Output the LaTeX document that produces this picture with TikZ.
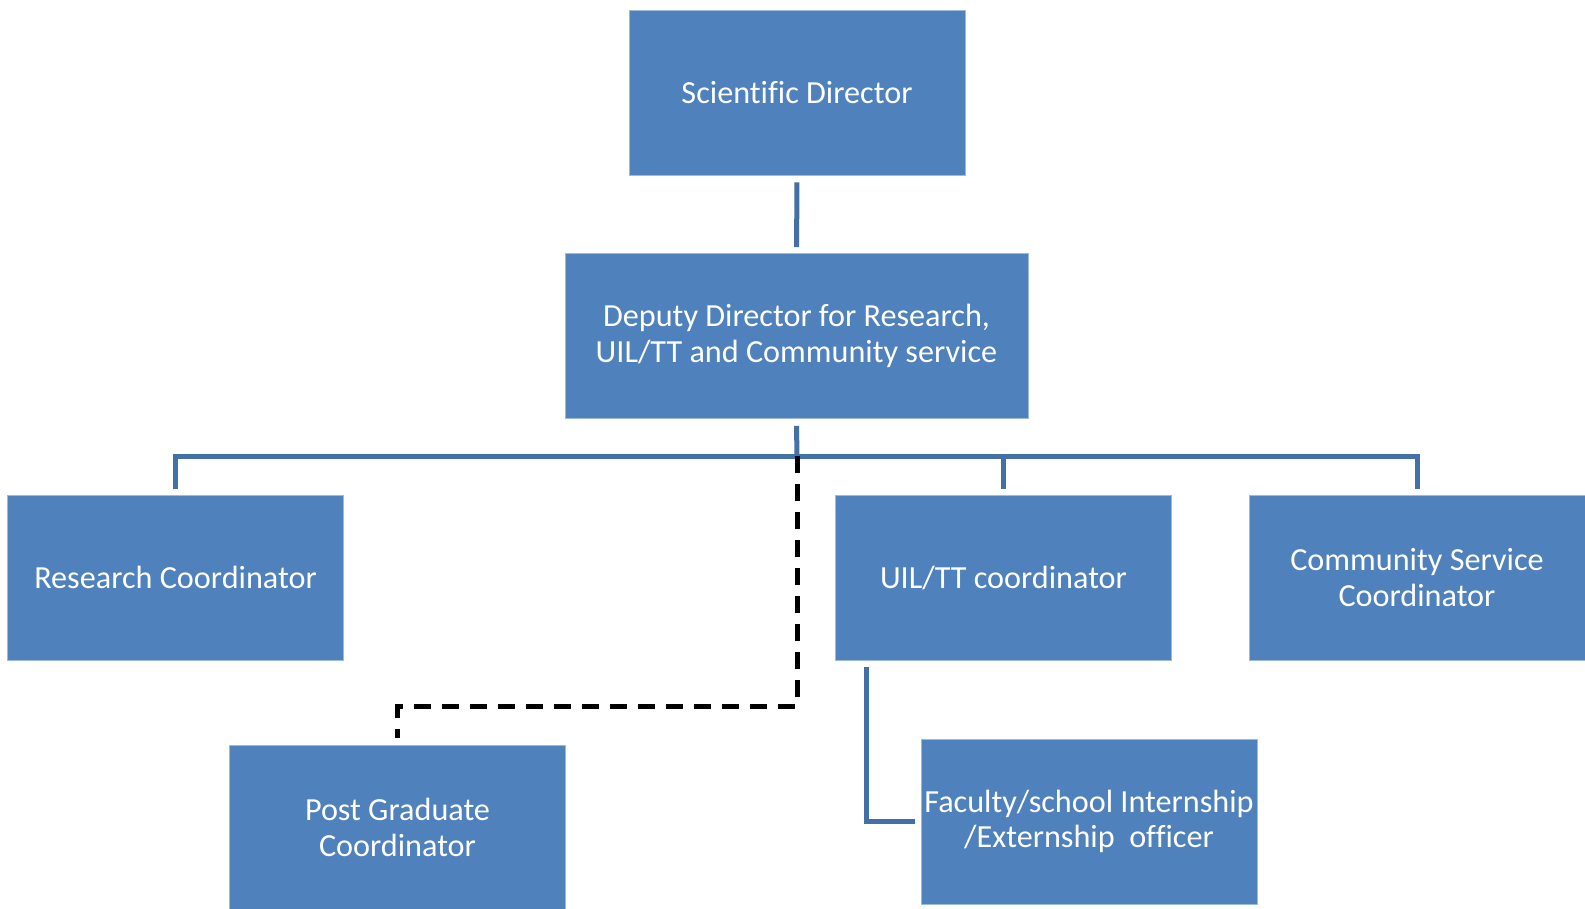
\documentclass[tikz,border=0pt]{standalone}
\usepackage{fontspec}
\setmainfont[Ligatures=NoCommon]{Carlito}

\definecolor{boxblue}{HTML}{4F81BD}
\definecolor{lineblue}{HTML}{4470A8}

\begin{document}
\begin{tikzpicture}[x=1pt,y=-1pt,
        unit/.style={fill=boxblue, draw=boxblue!55!white, line width=0.8pt,
            text=white, align=center, inner sep=0pt,
            minimum width=336pt, minimum height=165pt,
            font=\fontsize{32.2}{35.5}\selectfont},
        link/.style={draw=lineblue, line width=5pt},
        dashlink/.style={draw=black, line width=5pt, dash pattern=on 17pt off 11pt}]
    \useasboundingbox (0,0) rectangle (1585,908);

    % Top level
    \node[unit] (sci) at (797,92.5) {Scientific Director};
    \node[unit, minimum width=463pt] (dep) at (796.5,336)
        {Deputy Director for Research,\\UIL/TT and Community service};

    % Coordinators
    \node[unit] (research) at (175.5,577.5) {Research Coordinator};
    \node[unit] (uil) at (1003.5,577.5) {UIL/TT coordinator};
    \node[unit] (community) at (1417,577.5) {Community Service\\Coordinator};

    % Lower level
    \node[unit] (pg) at (397.5,827.5) {Post Graduate\\Coordinator};
    \node[unit] (fac) at (1089,821.5) {Faculty/school Internship\\/Externship~ officer};

    % Bus and bend points
    \coordinate (bus) at (797,456);
    \coordinate (bend) at (797,706);

    % Solid links
    \draw[link, shorten <=7pt, shorten >=6pt] (sci) -- (dep);
    \draw[link] ([yshift=-7pt]dep.south) -- (bus);
    \draw[link] ([yshift=6pt]research.north) |- (bus) -| ([yshift=6pt]community.north);
    \draw[link] (uil.north |- bus) -- ([yshift=6pt]uil.north);
    \draw[link] ([xshift=31pt,yshift=-7pt]uil.south west) |- ([xshift=-6pt]fac.west);

    % Dashed link to post graduate
    \draw[dashlink] (bus) -- (bend) -| ([yshift=7pt]pg.north);
\end{tikzpicture}
\end{document}
